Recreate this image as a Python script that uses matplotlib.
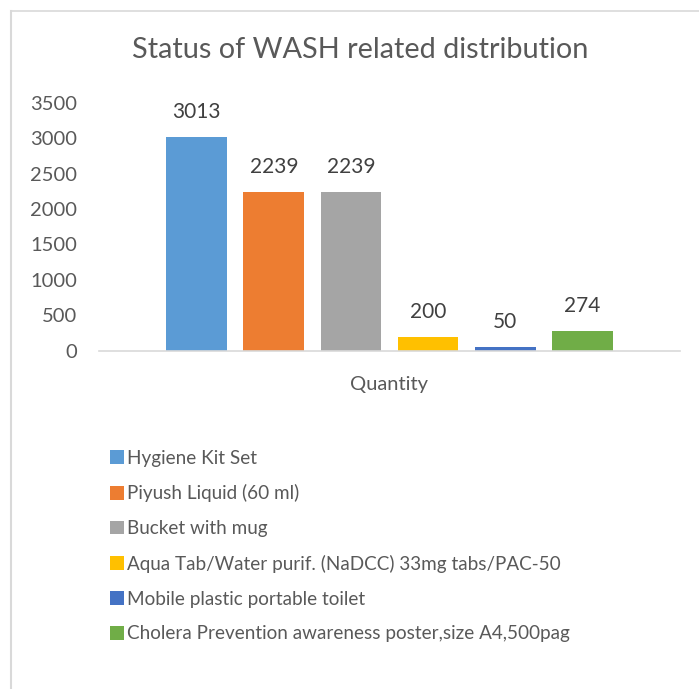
import matplotlib.pyplot as plt
from matplotlib.patches import Patch
from matplotlib.lines import Line2D

plt.rcParams['font.family'] = ['Lato', 'DejaVu Sans']

# data
items = ['Hygiene Kit Set', 'Piyush Liquid (60 ml)', 'Bucket with mug',
         'Aqua Tab/Water purif. (NaDCC) 33mg tabs/PAC-50',
         'Mobile plastic portable toilet',
         'Cholera Prevention awareness poster,size A4,500pag']
quantity = [3013, 2239, 2239, 200, 50, 274]
colors = ['#5b9bd5', '#ed7d31', '#a5a5a5', '#ffc000', '#4472c4', '#70ad47']
category = 'Quantity'
yticks = [0, 500, 1000, 1500, 2000, 2500, 3000, 3500]

fig = plt.figure(figsize=(6.99, 6.89), dpi=100)
ax = fig.add_axes([0.1416, 0.491, 0.8312, 0.3597])

x = list(range(len(quantity)))
bars = ax.bar(x, quantity, width=0.79, color=colors)
for xi, v in zip(x, quantity):
    ax.annotate(str(v), (xi, v), xytext=(0, 18), textcoords='offset points',
                ha='center', va='center', fontsize=15, color='#404040')

ax.set_xlim(2.5 - 3.77, 2.5 + 3.77)
ax.set_ylim(0, 3500)
ax.set_yticks(yticks)
ax.set_xticks([2.5])
ax.set_xticklabels([category])
ax.tick_params(axis='y', length=0, pad=16, labelsize=14.5, labelcolor='#595959')
ax.tick_params(axis='x', length=0, pad=18, labelsize=14.5, labelcolor='#595959')
for s in ['top', 'right', 'left']:
    ax.spines[s].set_visible(False)
ax.spines['bottom'].set_color('#d9d9d9')
ax.spines['bottom'].set_linewidth(1.2)

fig.text(360 / 699, 1 - 50 / 689, 'Status of WASH related distribution',
         ha='center', va='center', fontsize=20.8, color='#595959')

handles = [Patch(facecolor=c, edgecolor='none') for c in colors]
fig.legend(handles, items, loc='upper left', bbox_to_anchor=(102 / 699, 1 - 442 / 689),
           frameon=False, fontsize=13.6, labelcolor='#595959',
           handlelength=0.75, handleheight=0.75, handletextpad=0.15,
           labelspacing=0.94, borderaxespad=0)

# chart border (top and left only visible)
fig.add_artist(Line2D([10.5 / 699, 1], [1 - 10.5 / 689] * 2, color='#d9d9d9', lw=1.2))
fig.add_artist(Line2D([10.5 / 699] * 2, [0, 1 - 10.5 / 689], color='#d9d9d9', lw=1.5))

fig.savefig('out.png', dpi=100)
